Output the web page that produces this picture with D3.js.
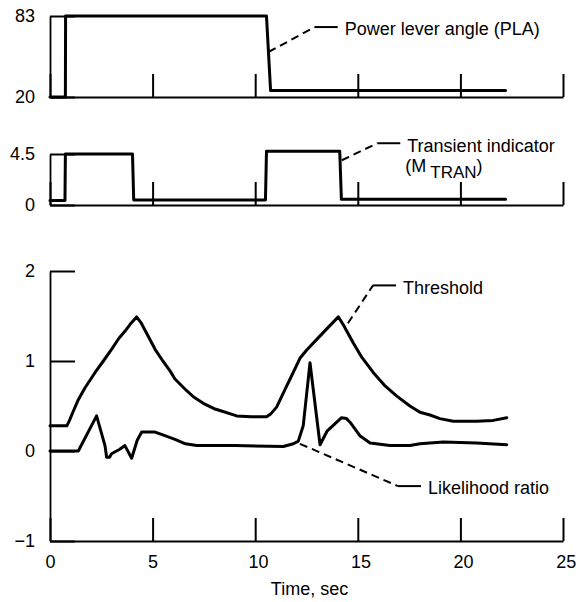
<!DOCTYPE html>
<html>

<head>
    <meta charset="utf-8">
    <title>Transient detection</title>
    <script type="text/javascript" src="https://d3js.org/d3.v7.min.js"></script>
    <style>
        body { margin: 0; background: #fff; }
        text { font-family: "Liberation Sans", Arial, sans-serif; fill: #000; }
    </style>
</head>

<body>
    <div id="chart"></div>
</body>

<script type="text/javascript">
    // time axis
    var timeTicks = [0, 5, 10, 15, 20, 25];

    // power lever angle (PLA), deg
    var plaTicks = [20, 83];
    var plaTime = [0, 0.75, 0.76, 10.55, 10.75, 22.2];
    var plaValue = [20, 20, 83, 83, 25, 25];

    // transient indicator M_TRAN
    var tranTicks = [0, 4.5];
    var tranTime = [0, 0.73, 0.75, 4.02, 4.08, 10.5, 10.55, 14.12, 14.2, 22.2];
    var tranValue = [0.4, 0.4, 4.5, 4.5, 0.45, 0.45, 4.75, 4.75, 0.5, 0.5];

    // threshold and likelihood ratio
    var ratioTicks = [-1, 0, 1, 2];
    var thrTime = [0, 0.82, 0.95, 1.15, 1.38, 1.7, 2.19, 2.6, 3.0, 3.35, 3.65, 3.95, 4.22,
        4.45, 4.8, 5.12, 5.5, 5.85, 6.09, 6.66, 7.0, 7.47, 8.0, 8.28, 9.1, 9.8, 10.56,
        10.75, 11.05, 11.53, 11.7, 12.18, 12.5, 13.0, 13.5, 14.05, 14.3, 14.78, 15.2,
        15.76, 16.3, 16.9, 17.54, 18.03, 18.52, 19.0, 19.65, 20.79, 21.6, 22.26];
    var thrValue = [0.28, 0.28, 0.34, 0.45, 0.57, 0.70, 0.87, 1.00, 1.13, 1.25, 1.33, 1.42, 1.49,
        1.42, 1.27, 1.13, 1.00, 0.89, 0.80, 0.67, 0.60, 0.53, 0.47, 0.45, 0.39, 0.38, 0.38,
        0.41, 0.49, 0.72, 0.80, 1.03, 1.12, 1.24, 1.36, 1.49, 1.40, 1.20, 1.04,
        0.87, 0.73, 0.61, 0.50, 0.43, 0.40, 0.36, 0.33, 0.33, 0.34, 0.37];
    var lrTime = [0, 1.38, 2.27, 2.68, 2.76, 2.9, 3.0, 3.4, 3.65, 3.98, 4.25, 4.47, 5.12, 5.6,
        6.09, 6.6, 7.15, 9.0, 11.37, 11.86, 12.1, 12.34, 12.67, 13.16, 13.5, 14.21, 14.45,
        14.62, 15.1, 15.6, 16.57, 17.54, 18.03, 19.17, 20.79, 22.26];
    var lrValue = [0, 0, 0.39, 0.06, -0.07, -0.07, -0.03, 0.02, 0.06, -0.08, 0.12, 0.21, 0.21, 0.17,
        0.13, 0.08, 0.06, 0.06, 0.05, 0.08, 0.11, 0.28, 0.98, 0.07, 0.22, 0.37, 0.36,
        0.32, 0.17, 0.09, 0.06, 0.06, 0.08, 0.10, 0.09, 0.07];

    var width = 576;
    var height = 602;

    var svg = d3.select("#chart")
        .append("svg")
        .attr("width", width)
        .attr("height", height);

    svg.append("rect").attr("width", width).attr("height", height).attr("fill", "#fff");

    var x = d3.scaleLinear().domain([0, 25]).range([50, 563]);
    var yPla = d3.scaleLinear().domain([20, 83]).range([97, 16]);
    var yTran = d3.scaleLinear().domain([0, 4.5]).range([205, 154]);
    var yRatio = d3.scaleLinear().domain([-1, 2]).range([541, 271]);

    function zip(ts, vs) {
        return ts.map(function (t, i) { return [t, vs[i]]; });
    }

    // draw one panel: left axis, bottom axis
    function panel(y, yTicks, showTimeLabels) {
        var g = svg.append("g");
        var base = y.range()[0];

        var xAxis = d3.axisBottom(x)
            .tickValues(timeTicks)
            .tickSizeInner(-23)
            .tickSizeOuter(0)
            .tickPadding(14);
        if (!showTimeLabels) xAxis.tickFormat("");

        var gx = g.append("g")
            .attr("transform", "translate(0," + base + ")")
            .call(xAxis);

        var yAxis = d3.axisLeft(y)
            .tickValues(yTicks)
            .tickSizeInner(-25)
            .tickSizeOuter(0)
            .tickPadding(15)
            .tickFormat(function (d) { return d < 0 ? "\u2212" + Math.abs(d) : String(d); });

        var gy = g.append("g")
            .attr("transform", "translate(" + x(0) + ",0)")
            .call(yAxis);

        [gx, gy].forEach(function (a) {
            a.select(".domain").attr("stroke", "#000").attr("stroke-width", 1.8);
            a.selectAll(".tick line").attr("stroke", "#000").attr("stroke-width", 2);
            a.selectAll(".tick text")
                .attr("font-size", 18)
                .attr("font-family", "Liberation Sans, Arial, sans-serif")
                .attr("fill", "#000");
        });
        gx.selectAll(".tick text").attr("dx", function (d) { return d >= 10 ? "0.15em" : 0; });
        return g;
    }

    function curve(y, data) {
        var line = d3.line()
            .x(function (d) { return x(d[0]); })
            .y(function (d) { return y(d[1]); });
        svg.append("path")
            .datum(data)
            .attr("fill", "none")
            .attr("stroke", "#000")
            .attr("stroke-width", 3)
            .attr("stroke-linejoin", "round")
            .attr("stroke-linecap", "round")
            .attr("d", line);
    }

    panel(yPla, plaTicks, false);
    panel(yTran, tranTicks, false);
    panel(yRatio, ratioTicks, true);

    curve(yPla, zip(plaTime, plaValue));
    curve(yTran, zip(tranTime, tranValue));
    curve(yRatio, zip(thrTime, thrValue));
    curve(yRatio, zip(lrTime, lrValue));

    // leader lines: dashed from the curve to an elbow, then a short solid bit, then the label
    function leader(y, tip, elbow, label) {
        var x0 = x(tip[0]), y0 = y(tip[1]);
        var x1 = x(elbow[0]), y1 = y(elbow[1]);
        svg.append("line")
            .attr("x1", x0).attr("y1", y0).attr("x2", x1).attr("y2", y1)
            .attr("stroke", "#000").attr("stroke-width", 2)
            .attr("stroke-dasharray", "8,5");
        svg.append("line")
            .attr("x1", x1).attr("y1", y1).attr("x2", x1 + 23).attr("y2", y1)
            .attr("stroke", "#000").attr("stroke-width", 2);
        var t = svg.append("text")
            .attr("x", x1 + 30)
            .attr("y", y1 + 2)
            .attr("dy", "0.35em")
            .attr("font-size", 18);
        if (label) t.text(label);
        return t;
    }

    leader(yPla, [10.65, 55], [12.9, 74.4], "Power lever angle (PLA)");
    leader(yTran, [14.22, 3.95], [15.95, 5.45], "Transient indicator");
    var m = svg.append("text")
        .attr("x", x(15.95) + 28)
        .attr("y", yTran(5.45) + 22)
        .attr("dy", "0.35em")
        .attr("font-size", 18);
    m.append("tspan").text("(M");
    m.append("tspan").attr("dx", 4).attr("dy", 6).attr("font-size", 17).text("TRAN");
    m.append("tspan").attr("dy", -6).text(")");

    leader(yRatio, [14.52, 1.42], [15.74, 1.84], "Threshold");
    leader(yRatio, [12.18, 0.08], [16.96, -0.39], "Likelihood ratio");

    svg.append("text")
        .attr("x", (x(0) + x(25)) / 2 + 3)
        .attr("y", 589)
        .attr("dy", "0.35em")
        .attr("text-anchor", "middle")
        .attr("font-size", 18)
        .text("Time, sec");
</script>

</html>
